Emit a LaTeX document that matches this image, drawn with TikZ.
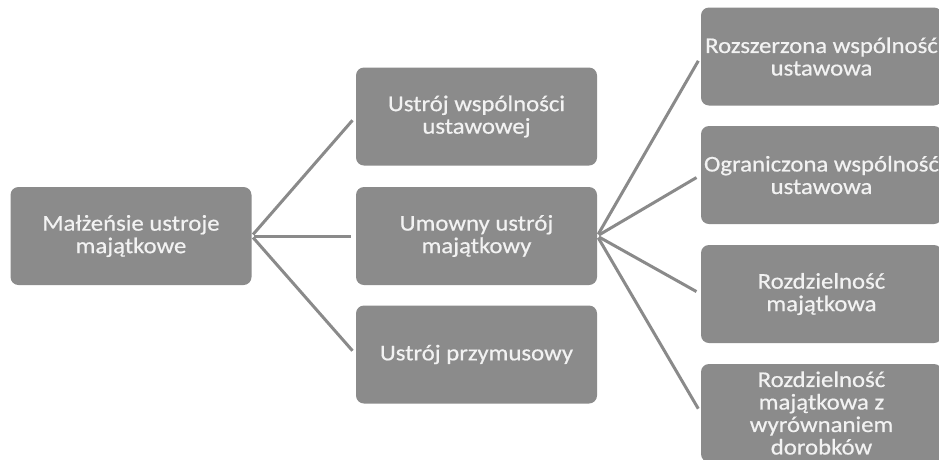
\documentclass[tikz,border=0pt]{standalone}
\usepackage{fontspec}
\setmainfont{Carlito}[FakeStretch=1.1, FakeBold=0.6]
\usetikzlibrary{positioning}

\definecolor{boxgray}{HTML}{8B8B8B}
\definecolor{linegray}{HTML}{8A8A8A}
\definecolor{txtwhite}{HTML}{F2F2F2}

\begin{document}
\begin{tikzpicture}[x=1pt, y=-1pt,
  box/.style={fill=boxgray, rounded corners=8pt, minimum width=241pt, minimum height=98pt,
    inner sep=0pt, align=center, text=txtwhite, font=\fontsize{22.5}{22.5}\selectfont},
  link/.style={draw=linegray, line width=3pt, shorten >=5pt, shorten <=2pt}]

\useasboundingbox (0,0) rectangle (939,459);
\clip (0,0) rectangle (939,459);
\fill[white] (0,0) rectangle (939,459);

% Root
\node[box] (root) at (131,236) {Małżeńsie ustroje\\majątkowe};

% Middle column
\node[box] (s1) at (476.5,116.5) {Ustrój wspólności\\ustawowej};
\node[box] (s2) at (476.5,236) {Umowny ustrój\\majątkowy};
\node[box] (s3) at (476.5,354.5) {Ustrój przymusowy};

% Right column
\node[box] (r1) at (821.5,56.5) {Rozszerzona wspólność\\ustawowa};
\node[box] (r2) at (821.5,175) {Ograniczona wspólność\\ustawowa};
\node[box] (r3) at (821.5,294) {Rozdzielność\\majątkowa};
\node[box] (r4) at (821.5,413) {Rozdzielność\\majątkowa z\\wyrównaniem\\dorobków};

\draw[link] (root.east) -- (s1.west);
\draw[link] (root.east) -- (s2.west);
\draw[link] (root.east) -- (s3.west);

\draw[link] (s2.east) -- (r1.west);
\draw[link] (s2.east) -- (r2.west);
\draw[link] (s2.east) -- (r3.west);
\draw[link] (s2.east) -- (r4.west);

\end{tikzpicture}
\end{document}
